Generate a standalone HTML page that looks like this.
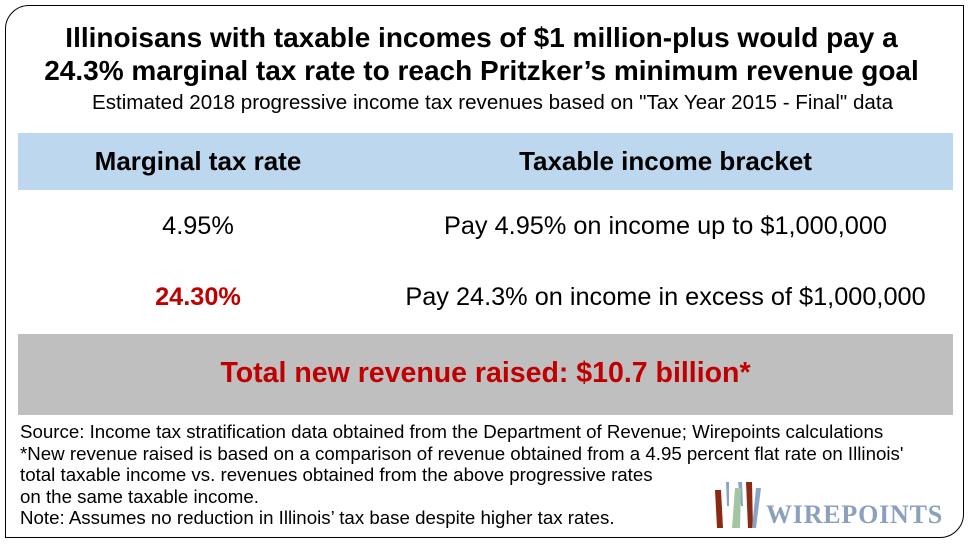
<!DOCTYPE html>
<html><head><style>
body{margin:0;width:973px;height:547px;background:#fff;font-family:"Liberation Sans",Arial,sans-serif;position:relative;overflow:hidden}
.frame{position:absolute;left:5px;top:5px;width:959px;height:533px;border:1.5px solid #000;border-radius:24px 0 24px 0;box-sizing:border-box}
.t{position:absolute;white-space:nowrap}
.c{left:0;width:973px;text-align:center}
</style></head><body>
<div class="frame"></div>
<div class="t c" style="top:21px;font-size:28px;font-weight:bold;line-height:33px;left:-5px">Illinoisans with taxable incomes of $1 million-plus would pay a<br>24.3% marginal tax rate to reach Pritzker’s minimum revenue goal</div>
<div class="t c" style="top:91px;font-size:20.6px;left:6px">Estimated 2018 progressive income tax revenues based on "Tax Year 2015 - Final" data</div>
<div class="t" style="left:18px;top:133px;width:935px;height:57px;background:#bdd7ee"></div>
<div class="t" style="left:18px;top:146px;width:360px;text-align:center;font-size:26px;font-weight:bold">Marginal tax rate</div>
<div class="t" style="left:378px;top:146px;width:575px;text-align:center;font-size:26px;font-weight:bold">Taxable income bracket</div>
<div class="t" style="left:18px;top:212px;width:360px;text-align:center;font-size:25.3px">4.95%</div>
<div class="t" style="left:378px;top:212px;width:575px;text-align:center;font-size:25.3px">Pay 4.95% on income up to $1,000,000</div>
<div class="t" style="left:18px;top:283px;width:360px;text-align:center;font-size:25.3px;font-weight:bold;color:#c00000">24.30%</div>
<div class="t" style="left:378px;top:283px;width:575px;text-align:center;font-size:25.3px">Pay 24.3% on income in excess of $1,000,000</div>
<div class="t" style="left:18px;top:334px;width:935px;height:81px;background:#bfbfbf"></div>
<div class="t" style="left:18px;top:357px;width:935px;text-align:center;font-size:28.5px;font-weight:bold;color:#c00000">Total new revenue raised: $10.7 billion*</div>
<div class="t" style="left:20px;top:421px;font-size:18.7px;line-height:21.5px">Source: Income tax stratification data obtained from the Department of Revenue; Wirepoints calculations<br>*New revenue raised is based on a comparison of revenue obtained from a 4.95 percent flat rate on Illinois'<br>total taxable income vs. revenues obtained from the above progressive rates<br>on the same taxable income.<br>Note: Assumes no reduction in Illinois’ tax base despite higher tax rates.</div>
<svg class="t" style="left:712px;top:478px" width="50" height="50">
<polygon points="3,12 9,12 11,50 5,50" fill="#8b2a14"/>
<polygon points="26,4 30,4 31,28 29,28" fill="#8aa5c4"/>
<polygon points="23,10 29,10 28,50 20,50" fill="#a3c5a3"/>
<polygon points="34,4 40,4 41,50 36,50" fill="#8b2a14"/>
<polygon points="44,10 49,10 44,50 40,50" fill="#8aa5c4"/>
<polygon points="14,4 17,4 17,28 15,28" fill="#8aa5c4"/>
</svg>
<div class="t" style="left:766px;top:500px;font-family:'Liberation Serif',serif;font-weight:bold;font-size:26px;color:#8aa0bd;letter-spacing:0.8px">WIREPOINTS</div>
</body></html>
